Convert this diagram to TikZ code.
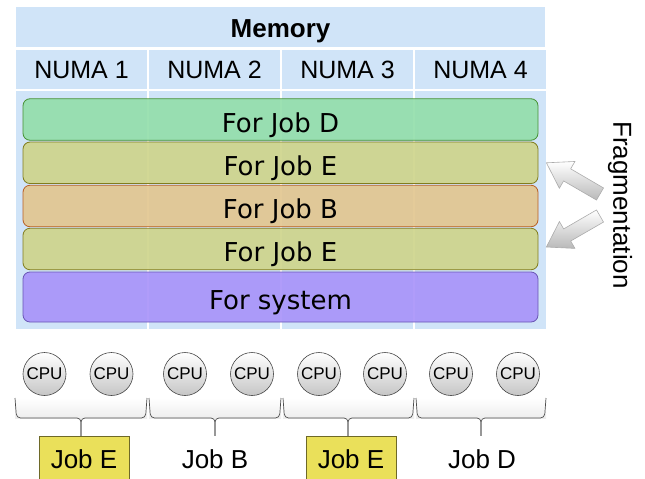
\documentclass[tikz,border=0pt]{standalone}
\usepackage{fontspec}
\setmainfont{Liberation Sans}
\newfontfamily\barfont{DejaVu Sans}
\usetikzlibrary{positioning, calc}
\definecolor{memblue}{RGB}{208,228,248}
\definecolor{jobdfill}{RGB}{146,222,170}
\definecolor{jobddraw}{RGB}{70,145,50}
\definecolor{jobefill}{RGB}{206,212,138}
\definecolor{jobedraw}{RGB}{130,125,30}
\definecolor{jobbfill}{RGB}{226,198,142}
\definecolor{jobbdraw}{RGB}{185,95,35}
\definecolor{sysfill}{RGB}{168,146,250}
\definecolor{sysdraw}{RGB}{105,85,180}
\definecolor{tagyellow}{RGB}{234,224,90}
\definecolor{tagdraw}{RGB}{110,105,40}

\begin{document}
\begin{tikzpicture}[
      x=1pt, y=-1pt,
      cell/.style={rectangle, fill=memblue, draw=white, line width=2pt, inner sep=0pt, font=\fontsize{25}{30}\selectfont},
      bar/.style={rectangle, rounded corners=7pt, line width=0.8pt, minimum width=515pt, minimum height=41.5pt, inner sep=0pt, text height=25pt, text depth=0pt, fill opacity=0.9, text opacity=1, font=\barfont\fontsize{26}{30}\selectfont},
      cpu/.style={circle, minimum size=43pt, inner sep=0pt, draw=gray!55!black, line width=0.6pt, top color=white, bottom color=gray!45, font=\fontsize{17}{20}\selectfont},
      jobtag/.style={rectangle, minimum width=90pt, minimum height=46pt, inner sep=0pt, font=\fontsize{26}{30}\selectfont},
      bracefill/.style={top color=white, bottom color=gray!14},
      cpubrace/.style={draw=gray!60!black, line width=0.7pt, rounded corners=4pt},
      fragarrow/.style={draw=gray!65, line width=0.6pt, top color=white, bottom color=gray!55}
  ]
  \useasboundingbox (0,0) rectangle (645,479);

  % Memory table
  \node[cell, minimum width=531pt, minimum height=42pt, text height=20pt, text depth=0pt, font=\bfseries\fontsize{26}{30}\selectfont] (mem) at (280.5,27) {Memory};
  \node[cell, minimum width=133pt, minimum height=42pt] (numa1) at (81.5,70) {NUMA 1};
  \node[cell, minimum width=133pt, minimum height=42pt] (numa2) at (214.5,70) {NUMA 2};
  \node[cell, minimum width=133pt, minimum height=42pt] (numa3) at (347.5,70) {NUMA 3};
  \node[cell, minimum width=133pt, minimum height=42pt] (numa4) at (480.5,70) {NUMA 4};
  \node[cell, minimum width=133pt, minimum height=240pt] (body1) at (81.5,210) {};
  \node[cell, minimum width=133pt, minimum height=240pt] (body2) at (214.5,210) {};
  \node[cell, minimum width=133pt, minimum height=240pt] (body3) at (347.5,210) {};
  \node[cell, minimum width=133pt, minimum height=240pt] (body4) at (480.5,210) {};

  % Allocations
  \node[bar, fill=jobdfill, draw=jobddraw] (barD) at (280.5,119.5) {For Job D};
  \node[bar, fill=jobefill, draw=jobedraw] (barE1) at (280.5,162.8) {For Job E};
  \node[bar, fill=jobbfill, draw=jobbdraw] (barB) at (280.5,206) {For Job B};
  \node[bar, fill=jobefill, draw=jobedraw] (barE2) at (280.5,249) {For Job E};
  \node[bar, fill=sysfill, draw=sysdraw, minimum height=50pt] (barSys) at (280.5,297) {For system};

  % CPUs
  \node[cpu] (cpu1) at (44.5,374) {CPU};
  \node[cpu] (cpu2) at (111.5,374) {CPU};
  \node[cpu] (cpu3) at (185,374) {CPU};
  \node[cpu] (cpu4) at (252,374) {CPU};
  \node[cpu] (cpu5) at (319,374) {CPU};
  \node[cpu] (cpu6) at (385,374) {CPU};
  \node[cpu] (cpu7) at (451,374) {CPU};
  \node[cpu] (cpu8) at (518,374) {CPU};

  % Jobs
  \node[jobtag, fill=tagyellow, draw=tagdraw] (jobE1) at (84,459) {Job E};
  \node[jobtag] (jobB) at (215,459) {Job B};
  \node[jobtag, fill=tagyellow, draw=tagdraw] (jobE2) at (351,459) {Job E};
  \node[jobtag] (jobD) at (482,459) {Job D};

  % Braces
  \fill[bracefill] (15,398) rectangle (147,418);
  \draw[cpubrace] (15,398) -- (16.5,418) -- (81,418) -- (81,0 |- jobE1.north);
  \draw[cpubrace] (81,0 |- jobE1.north) -- (81,418) -- (145.5,418) -- (147,398);
  \fill[bracefill] (149,398) rectangle (281,418);
  \draw[cpubrace] (149,398) -- (150.5,418) -- (215,418) -- (jobB.north);
  \draw[cpubrace] (jobB.north) -- (215,418) -- (279.5,418) -- (281,398);
  \fill[bracefill] (283,398) rectangle (414,418);
  \draw[cpubrace] (283,398) -- (284.5,418) -- (348,418) -- (348,0 |- jobE2.north);
  \draw[cpubrace] (348,0 |- jobE2.north) -- (348,418) -- (412.5,418) -- (414,398);
  \fill[bracefill] (416,398) rectangle (546,418);
  \draw[cpubrace] (416,398) -- (417.5,418) -- (481,418) -- (481,0 |- jobD.north);
  \draw[cpubrace] (481,0 |- jobD.north) -- (481,418) -- (544.5,418) -- (546,398);

  % Fragmentation
  \node[rotate=-90, font=\fontsize{26}{30}\selectfont] (frag) at (620,205) {Fragmentation};
  \coordinate (fragtail1) at (600,194);
  \coordinate (fragtip1) at ($(barE1.east)+(8,0)$);
  \coordinate (fragbase1) at ($(fragtip1)!24pt!(fragtail1)$);
  \path[fragarrow] ($(fragtail1)!7pt!90:(fragtip1)$) -- ($(fragbase1)!7pt!90:(fragtip1)$) -- ($(fragbase1)!15.5pt!90:(fragtip1)$) -- (fragtip1)
    -- ($(fragbase1)!15.5pt!-90:(fragtip1)$) -- ($(fragbase1)!7pt!-90:(fragtip1)$) -- ($(fragtail1)!7pt!-90:(fragtip1)$) -- cycle;
  \coordinate (fragtail2) at (600,216);
  \coordinate (fragtip2) at ($(barE2.east)+(8,-2)$);
  \coordinate (fragbase2) at ($(fragtip2)!24pt!(fragtail2)$);
  \path[fragarrow] ($(fragtail2)!7pt!90:(fragtip2)$) -- ($(fragbase2)!7pt!90:(fragtip2)$) -- ($(fragbase2)!15.5pt!90:(fragtip2)$) -- (fragtip2)
    -- ($(fragbase2)!15.5pt!-90:(fragtip2)$) -- ($(fragbase2)!7pt!-90:(fragtip2)$) -- ($(fragtail2)!7pt!-90:(fragtip2)$) -- cycle;

\end{tikzpicture}
\end{document}
